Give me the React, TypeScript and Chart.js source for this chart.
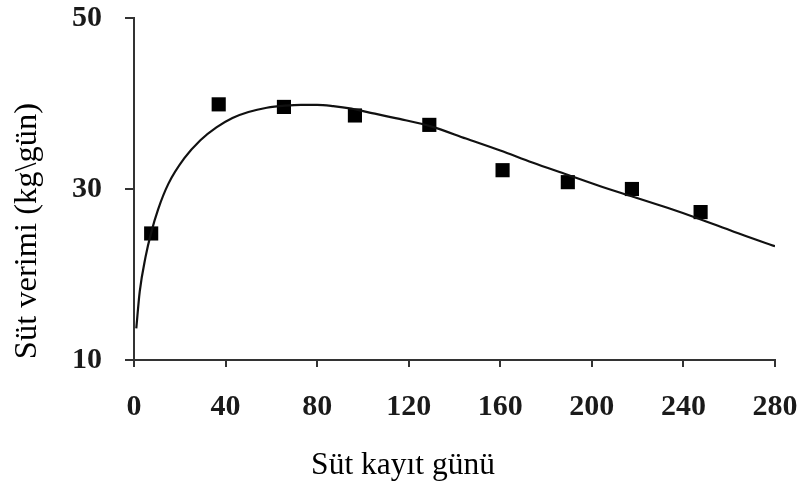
import React, { useEffect, useRef } from "react";
import { Chart, registerables } from "chart.js";

Chart.register(...registerables);

// Observed test-day milk yields (squares)
const obsDays = [7.5, 37, 65.5, 96.5, 129, 161, 189.5, 217.5, 247.5];
const obsYield = [24.8, 39.9, 39.6, 38.6, 37.5, 32.2, 30.8, 30.0, 27.3];

// Fitted lactation curve
const curveDays = [1, 2.5, 5, 7.5, 10.5, 15, 22, 29, 36, 43, 50, 58, 66, 73, 80, 87, 95, 102, 116, 130, 145, 160, 174, 189, 204, 218, 233, 247, 262, 280];
const curveYield = [13.7, 18.0, 22.0, 24.9, 27.6, 30.6, 33.6, 35.7, 37.2, 38.3, 39.0, 39.5, 39.75, 39.85, 39.85, 39.7, 39.4, 39.0, 38.2, 37.3, 35.9, 34.5, 33.1, 31.7, 30.3, 29.1, 27.8, 26.5, 25.0, 23.3];

// Axis settings
const xMin = 0;
const xMax = 280;
const xStep = 40;
const yMin = 10;
const yMax = 50;
const yStep = 20;

const xTitle = "Süt kayıt günü";
const yTitle = "Süt verimi (kg\\gün)";

const FONT = "'Liberation Serif', 'Times New Roman', serif";

const titlesPlugin = {
  id: "titlesPlugin",
  afterDraw(chart: any) {
    const ctx = chart.ctx;
    ctx.save();
    ctx.fillStyle = "#000";
    ctx.textAlign = "center";
    ctx.textBaseline = "middle";
    // x-axis title
    ctx.font = `31.5px ${FONT}`;
    ctx.fillText(xTitle, 403, 466);
    // y-axis title
    ctx.translate(27, 231);
    ctx.rotate(-Math.PI / 2);
    ctx.font = `32.5px ${FONT}`;
    ctx.fillText(yTitle, 0, 0);
    ctx.restore();
  },
};

export default function App() {
  const ref = useRef<HTMLCanvasElement | null>(null);

  useEffect(() => {
    document.body.style.margin = "0";
    const canvas = ref.current;
    if (!canvas) return;
    const chart = new Chart(canvas, {
      type: "scatter",
      data: {
        datasets: [
          {
            type: "line",
            label: "Eğri",
            data: curveDays.map((d, i) => ({ x: d, y: curveYield[i] })),
            borderColor: "#111",
            borderWidth: 2.2,
            pointRadius: 0,
            fill: false,
            cubicInterpolationMode: "monotone",
          } as any,
          {
            type: "scatter",
            label: "Gözlenen",
            data: obsDays.map((d, i) => ({ x: d, y: obsYield[i] })),
            pointStyle: "rect",
            pointRadius: 10,
            backgroundColor: "#000",
            borderColor: "#000",
            borderWidth: 0,
          },
        ],
      },
      options: {
        animation: false,
        responsive: false,
        maintainAspectRatio: false,
        layout: { padding: { top: 18, right: 33, left: 0, bottom: 0 } },
        plugins: {
          legend: { display: false },
          tooltip: { enabled: false },
        },
        scales: {
          x: {
            type: "linear",
            min: xMin,
            max: xMax,
            ticks: {
              stepSize: xStep,
              color: "#1a1a1a",
              padding: 22,
              font: { family: FONT, size: 30, weight: "bold" },
            },
            grid: {
              display: true,
              drawOnChartArea: false,
              drawTicks: true,
              tickLength: 7,
              color: "#333",
              lineWidth: 2,
            },
            border: { display: true, color: "#333", width: 2 },
            afterFit: (s: any) => {
              s.height = 133;
              s.paddingLeft = 0;
              s.paddingRight = 0;
            },
          },
          y: {
            type: "linear",
            min: yMin,
            max: yMax,
            ticks: {
              stepSize: yStep,
              color: "#1a1a1a",
              padding: 23,
              font: { family: FONT, size: 30, weight: "bold" },
            },
            grid: {
              display: true,
              drawOnChartArea: false,
              drawTicks: true,
              tickLength: 9,
              color: "#333",
              lineWidth: 2,
            },
            border: { display: true, color: "#333", width: 2 },
            afterFit: (s: any) => {
              s.width = 134;
              s.paddingTop = 0;
              s.paddingBottom = 0;
            },
          },
        },
      },
      plugins: [titlesPlugin],
    });
    return () => chart.destroy();
  }, []);

  return (
    <div style={{ width: 808, height: 493, background: "#fff" }}>
      <canvas ref={ref} width={808} height={493} style={{ display: "block" }} />
    </div>
  );
}
